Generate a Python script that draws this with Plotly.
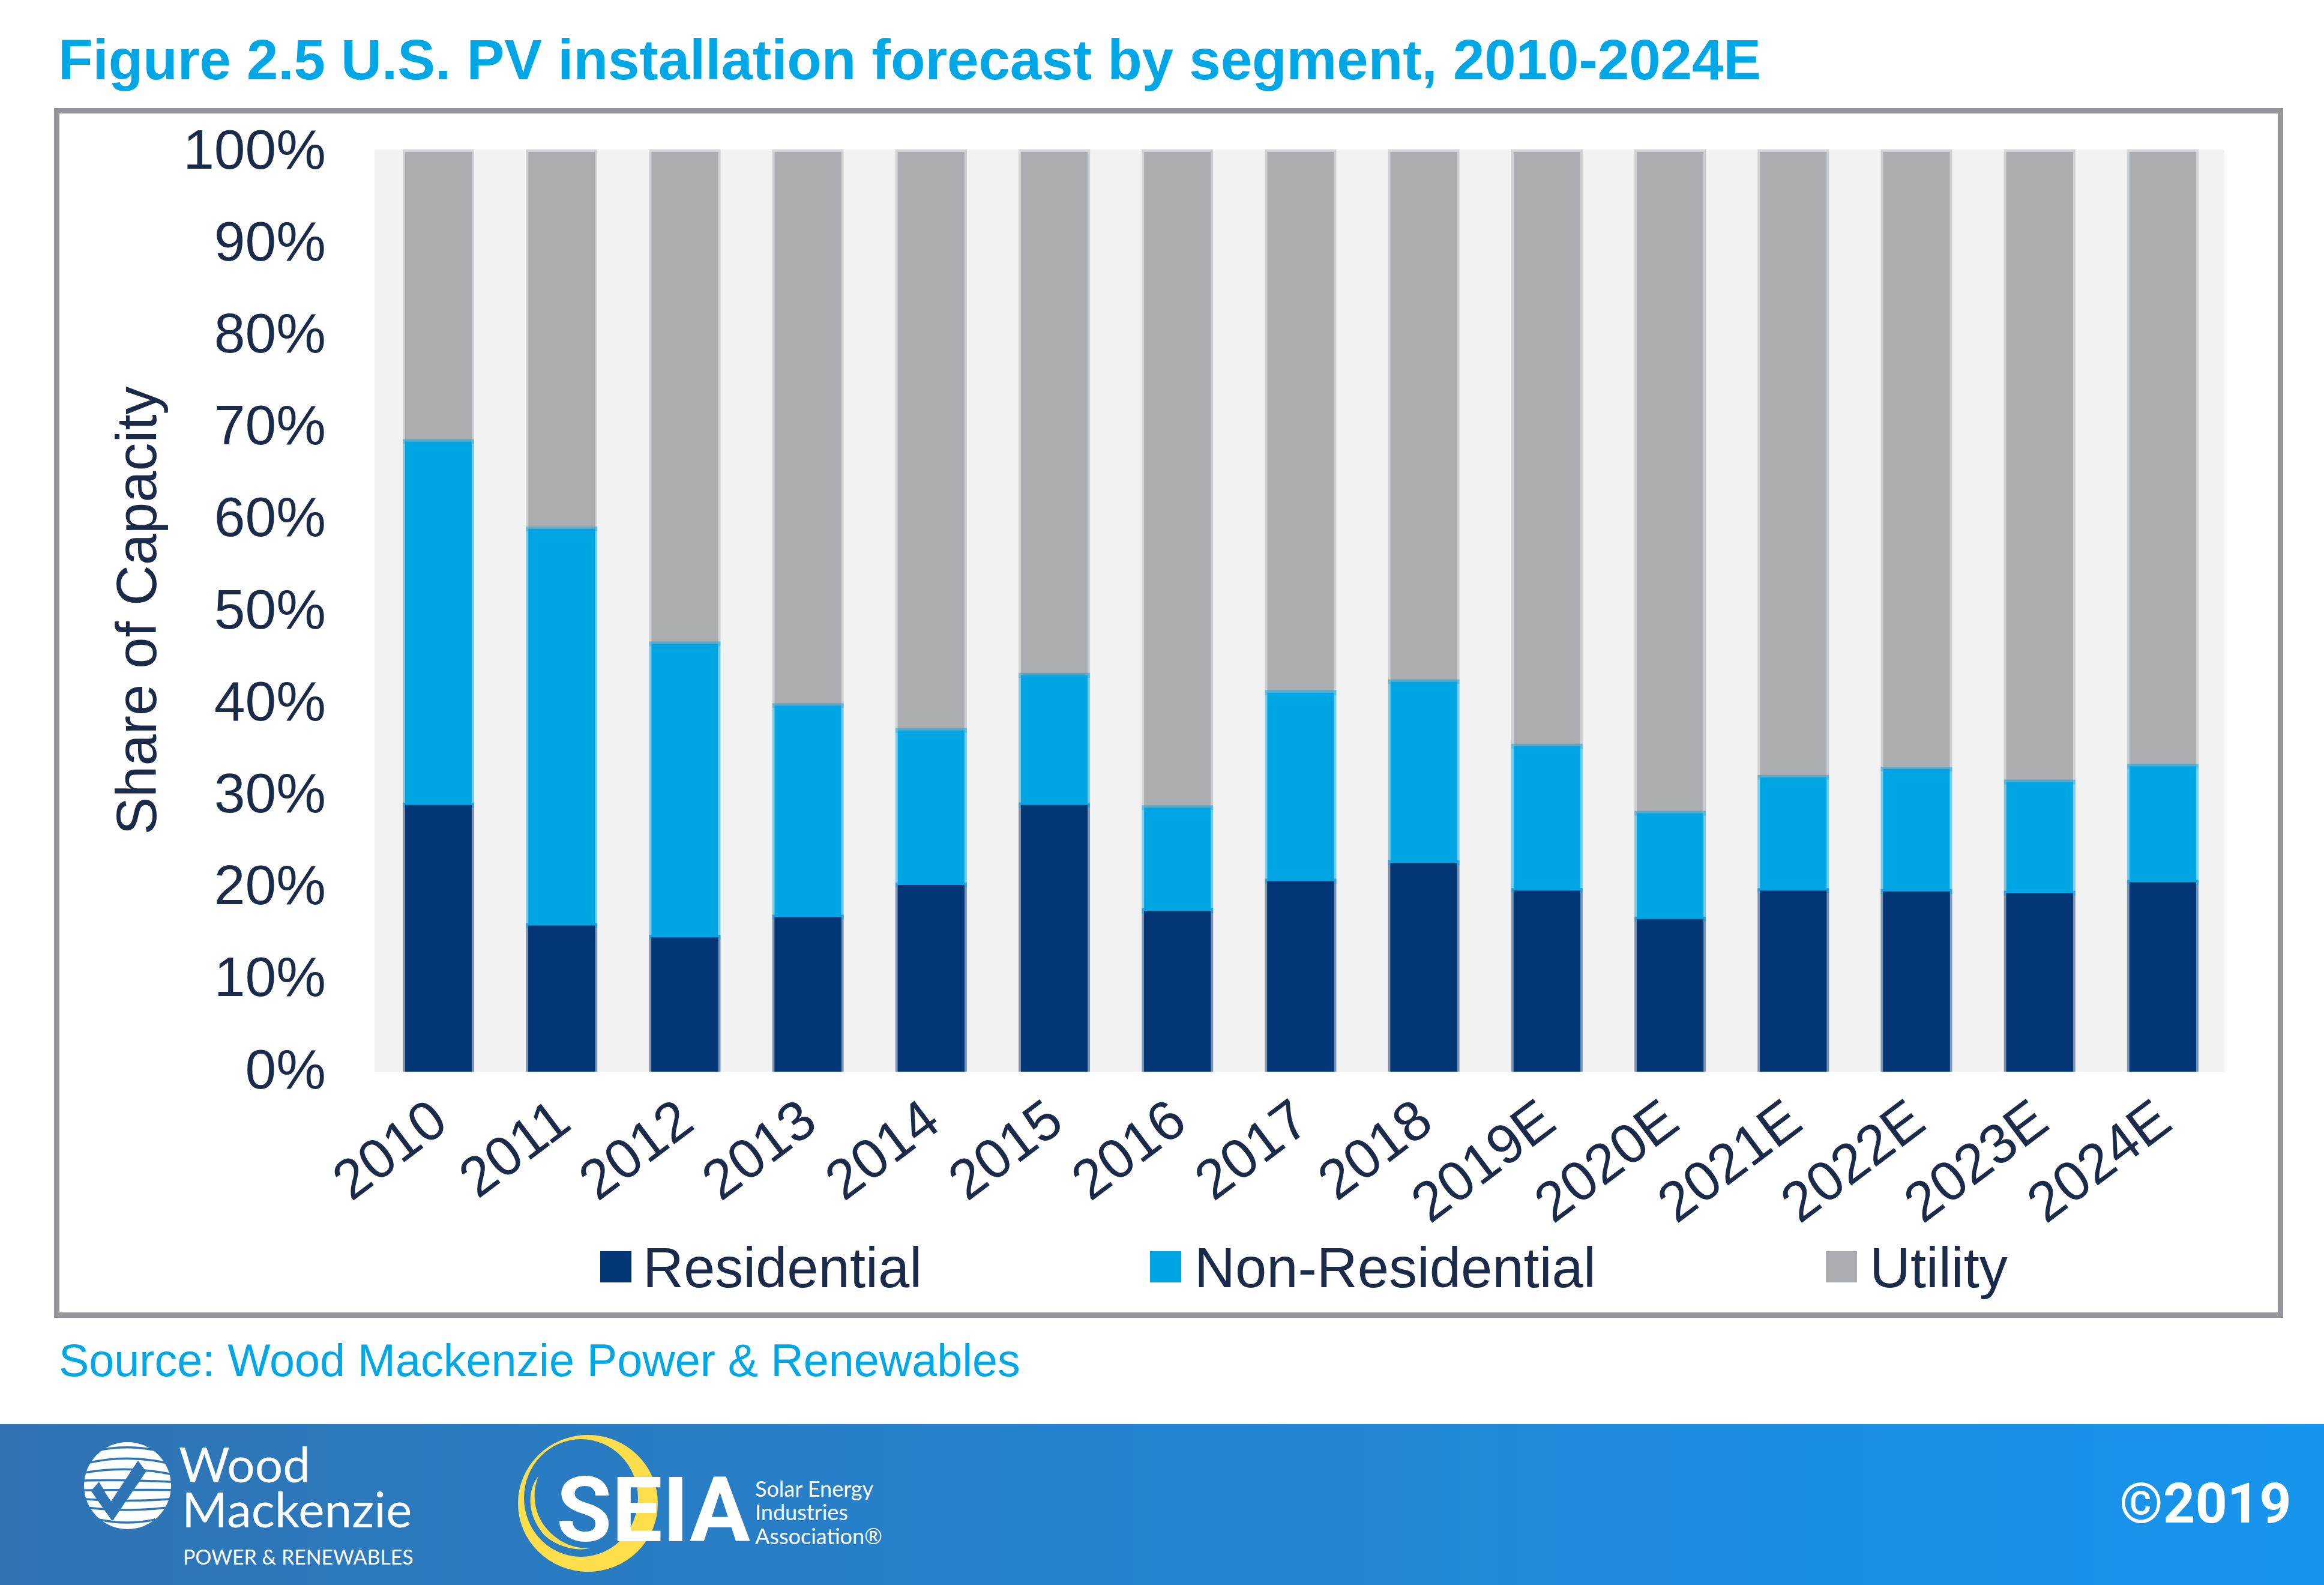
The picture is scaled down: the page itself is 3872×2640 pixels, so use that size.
import plotly.graph_objects as go

W, H = 3872, 2640
PL, PR, PT, PB = 624, 3706, 249, 1785

years = ["2010","2011","2012","2013","2014","2015","2016","2017","2018","2019E","2020E","2021E","2022E","2023E","2024E"]
residential = [29.0,15.9,14.6,16.8,20.3,29.0,17.5,20.7,22.7,19.7,16.6,19.7,19.6,19.4,20.6]
non_residential = [39.5,43.1,31.9,23.0,16.8,14.1,11.2,20.5,19.7,15.7,11.5,12.3,13.3,12.1,12.6]
utility = [31.5,41.0,53.5,60.2,62.9,56.9,71.3,58.8,57.6,64.6,71.9,68.0,67.1,68.5,66.8]
y_ticks = [0,10,20,30,40,50,60,70,80,90,100]
y_labels = ["0%","10%","20%","30%","40%","50%","60%","70%","80%","90%","100%"]

NAVY, CYAN, GREY = "#033676", "#00A5E3", "#ACADB0"
TXT = "#1B2A49"
TITLE = "#00A7E6"
YEL = "#FEDE4B"
SANS = "Liberation Sans"

def X(px): return (px - PL) / (PR - PL)
def Y(py): return (PB - py) / (PB - PT)

def rgba(hex_c, a):
    return f"rgba({int(hex_c[1:3],16)},{int(hex_c[3:5],16)},{int(hex_c[5:7],16)},{a})"

base_non = residential
base_uti = [a + b for a, b in zip(residential, non_residential)]
zero = [0] * len(years)

fig = go.Figure()
# draw order gives each segment a soft edge, as in the reference
for n, v, b, c, lg in [("Utility", utility, base_uti, GREY, "legend3"),
                       ("Residential", residential, zero, NAVY, "legend"),
                       ("Non-Residential", non_residential, base_non, CYAN, "legend2")]:
    fig.add_bar(x=years, y=v, base=b, name=n, legend=lg,
                marker=dict(color=c, line=dict(width=8, color=rgba(c, 0.5))))
# solid core of the residential segment: keeps its boundary with the cyan segment sharp
fig.add_bar(x=years, y=residential, base=zero, name="Residential", showlegend=False, hoverinfo="skip",
            marker=dict(color=NAVY, line=dict(width=0)))

shapes, ann = [], []

def rect(x0, y0, x1, y1, fill):
    shapes.append(dict(type="rect", xref="paper", yref="paper", x0=X(x0), x1=X(x1), y0=Y(y0), y1=Y(y1),
                       fillcolor=fill, line=dict(color=fill, width=0), layer="below"))

def path(tokens, fill=None, line=None, lw=0):
    out = []
    for t in tokens:
        out.append(t if isinstance(t, str) else f"{X(t[0]):.5f},{Y(t[1]):.5f}")
    shapes.append(dict(type="path", xref="paper", yref="paper", path=" ".join(out),
                       fillcolor=fill or "rgba(0,0,0,0)", line=dict(color=line or "rgba(0,0,0,0)", width=lw),
                       layer="below"))

def ellipse(x0, y0, x1, y1, fill):
    shapes.append(dict(type="circle", xref="paper", yref="paper", x0=X(x0), x1=X(x1), y0=Y(y0), y1=Y(y1),
                       fillcolor=fill, line=dict(width=0), layer="below"))

def text(s, x, y, size, color, family=SANS, anchor="left", weight=None):
    f = dict(size=size, color=color, family=family)
    if weight: f["weight"] = weight
    ann.append(dict(text=s, xref="paper", yref="paper", x=X(x), y=Y(y), xanchor=anchor, yanchor="middle",
                    showarrow=False, font=f, borderpad=0))

# frame around the chart
shapes.append(dict(type="rect", xref="paper", yref="paper", x0=X(94.5), x1=X(3799.5), y0=Y(184.5), y1=Y(2190.5),
                   line=dict(color="#939598", width=9), fillcolor="rgba(0,0,0,0)", layer="below"))

# large legend swatches
for x0, c in [(1000, NAVY), (1916, CYAN), (3042, GREY)]:
    rect(x0, 2084, x0 + 52, 2136, c)

# banner with left-to-right gradient
c0, c1 = (0x2F, 0x73, 0xB3), (0x17, 0x95, 0xEE)
N = 121
def banner(px):
    t = px / W
    return tuple(round(a + (b - a) * t) for a, b in zip(c0, c1))
for i in range(N):
    x0, x1 = W * i / N, W * (i + 1) / N + 1
    r, g, b = banner((x0 + x1) / 2)
    rect(x0, 2372, min(x1, W), H, f"rgb({r},{g},{b})")

# Wood Mackenzie globe (crop coordinates of the logo: 120+u/3, 2385+v/3)
BL = "rgb(%d,%d,%d)" % banner(212)
def G(u, v): return (120 + u / 3, 2385 + v / 3)
ellipse(140, 2402, 285, 2547, "#FFFFFF")
for p0, q, p1 in [((130, 92), (275, 62), (420, 92)), ((80, 155), (275, 110), (470, 155)),
                  ((55, 205), (275, 165), (500, 212)), ((50, 243), (275, 238), (500, 250)),
                  ((50, 292), (275, 288), (500, 290)), ((55, 335), (275, 352), (495, 335)),
                  ((75, 378), (275, 402), (475, 378)), ((135, 438), (275, 468), (415, 438))]:
    path(["M", G(*p0), "Q", G(*q), G(*p1)], line=BL, lw=3.5)
path(["M", G(330, 143), "L", G(370, 198), "L", G(205, 442), "L", G(198, 442), "L", G(95, 295),
      "L", G(135, 250), "L", G(195, 347), "Z"], fill=BL)
path(["M", G(162, 298), "L", G(226, 298), "L", G(195, 347), "Z"], fill="#FFFFFF")
text("Wood", 297, 2437, 82, "#FFFFFF", "Lato", weight=400)
text("Mackenzie", 302, 2512, 82, "#FFFFFF", "Lato", weight=400)
text("POWER &amp; RENEWABLES", 304, 2593, 33.8, "#FFFFFF", "Lato")

# SEIA mark (crop coordinates: 840+u/3, 2380+v/3)
BL2 = "rgb(%d,%d,%d)" % banner(980)
def S(u, v): return (840 + u / 3, 2380 + v / 3)
ellipse(863, 2390, 1096, 2618, YEL)
ellipse(873, 2397, 1063, 2593, BL2)
path(["M", S(172, 235), "C", S(120, 300), S(105, 420), S(200, 530), "C", S(270, 595), S(370, 610), S(430, 597),
      "C", S(340, 600), S(260, 560), S(205, 490), "C", S(150, 420), S(135, 320), S(172, 235), "Z"], fill=YEL)
text("SEIA", 926, 2516, 150, "#FFFFFF", "Roboto", weight=700)
text("Solar Energy", 1257, 2479, 36, "#FFFFFF", "Lato")
text("Industries", 1257, 2518, 36, "#FFFFFF", "Lato")
text("Association®", 1257, 2558, 36, "#FFFFFF", "Lato")

text("©2019", 3819, 2504, 93, "#FFFFFF", "Roboto", anchor="right", weight=700)
text("Source: Wood Mackenzie Power &amp; Renewables", 97, 2266, 75.5, TITLE)

def leg(x_text):
    return dict(x=X(x_text - 54), y=Y(2108), xanchor="left", yanchor="middle", bgcolor="rgba(0,0,0,0)",
                font=dict(size=94, color=TXT, family=SANS), itemwidth=30, borderwidth=0,
                itemclick=False, itemdoubleclick=False)

fig.update_layout(
    width=W, height=H, autosize=False, barmode="overlay", bargap=0.459,
    paper_bgcolor="#FFFFFF", plot_bgcolor="#F2F2F2",
    margin=dict(l=PL, r=W - PR, t=PT, b=H - PB, autoexpand=False),
    font=dict(family=SANS, color=TXT),
    title=dict(text="<b>Figure 2.5 U.S. PV installation forecast by segment, 2010-2024E</b>",
               x=97 / W, xanchor="left", xref="container", y=1 - 99 / H, yanchor="middle", yref="container",
               font=dict(size=94.2, color=TITLE, family=SANS)),
    xaxis=dict(type="category", range=[-0.519, 14.5], tickangle=-37, tickfont=dict(size=93, color=TXT),
               showgrid=False, zeroline=False, ticks="", showline=False, automargin=False, ticklabelstandoff=8,
               ticklabelshift=-8),
    yaxis=dict(range=[0, 100.26], tickvals=y_ticks, ticktext=y_labels, tickfont=dict(size=93, color=TXT),
               showgrid=False, zeroline=False, ticks="", showline=False, automargin=False, ticklabelstandoff=80,
               ticklabelshift=-5,
               title=dict(text="Share of Capacity", font=dict(size=94, color=TXT), standoff=13)),
    showlegend=True,
    legend=leg(1085), legend2=leg(2004), legend3=leg(3129),
    shapes=shapes, annotations=ann,
)
fig.write_html("out.html", config=dict(displayModeBar=False),
               post_script="document.body.style.margin='0';"
                           "var s=document.createElement('style');"
                           "s.textContent='.legendpoints{display:none}';"
                           "document.head.appendChild(s);")
